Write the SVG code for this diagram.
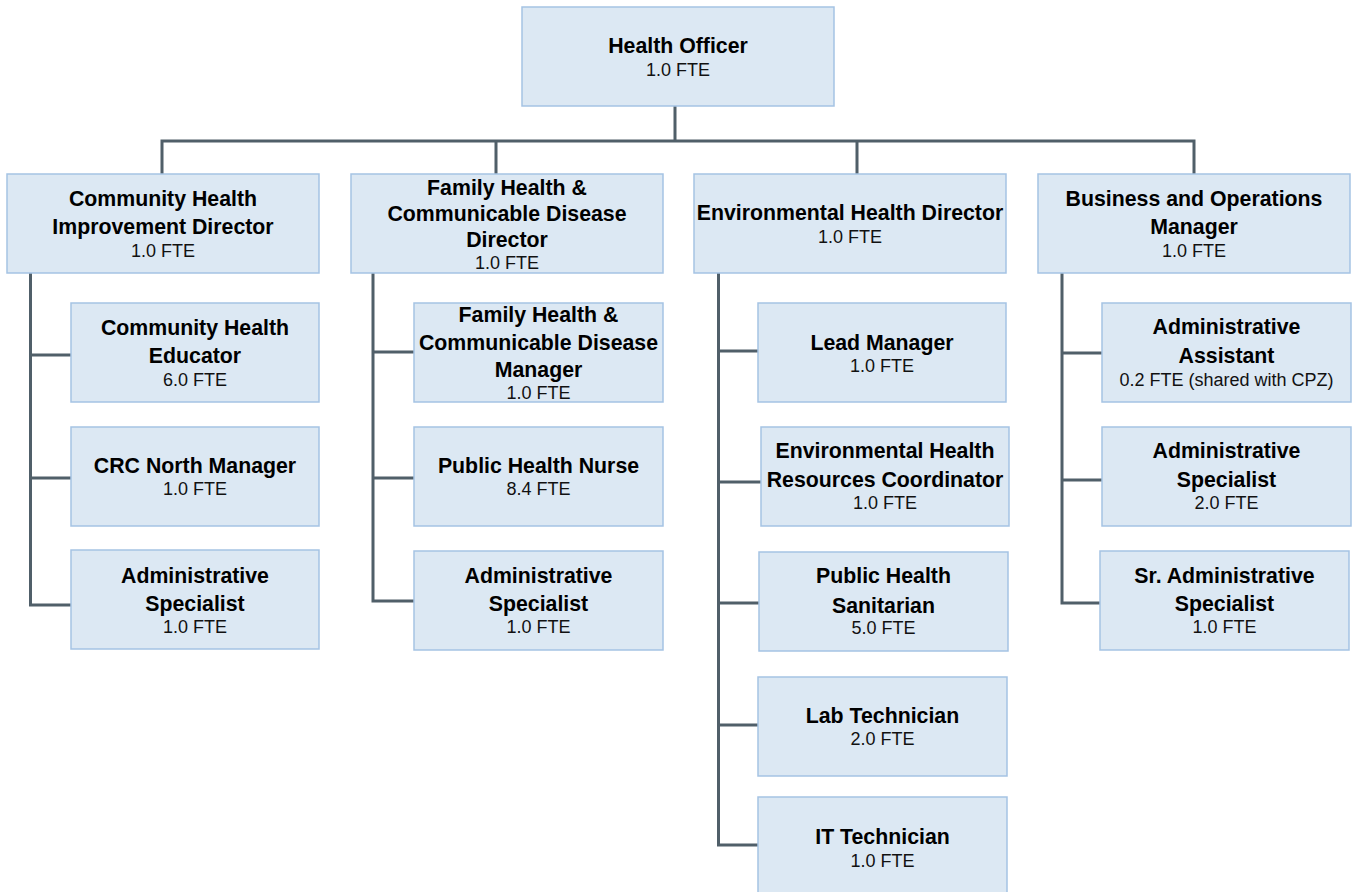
<svg xmlns="http://www.w3.org/2000/svg" width="1352" height="892" viewBox="0 0 1352 892">
<style>
.box{fill:#dce8f3;stroke:#a5c3e4;stroke-width:1.5}
.t{font-family:"Liberation Sans",Arial,sans-serif;font-weight:bold;font-size:21.3px;fill:#000;text-anchor:middle}
.f{font-family:"Liberation Sans",Arial,sans-serif;font-size:18px;fill:#111;text-anchor:middle}
.c{fill:none;stroke:#505f69;stroke-width:3;stroke-linejoin:miter;stroke-linecap:square}
</style>
<rect width="1352" height="892" fill="#fff"/>
<g id="connectors">
<path class="c" d="M675 106V141M162 174V141H1194V174M496 141V174M857 141V174"/>
<path class="c" d="M30.5 273V605M30.5 355H71M30.5 478H71M30.5 605H71"/>
<path class="c" d="M373 273V601M373 352H414M373 478H414M373 601H414"/>
<path class="c" d="M718.5 273V845M718.5 351H758M718.5 482H761M718.5 603H759M718.5 725H758M718.5 845H758"/>
<path class="c" d="M1062 273V603M1062 353H1102M1062 480H1102M1062 603H1100"/>
</g>
<g id="health-officer"><rect class="box" x="522" y="7" width="312" height="99"/><text class="t" x="678" y="53">Health Officer</text><text class="f" x="678" y="76">1.0 FTE</text></g>
<g id="chi-director"><rect class="box" x="7" y="174" width="312" height="99"/><text class="t" x="163" y="206">Community Health</text><text class="t" x="163" y="234">Improvement Director</text><text class="f" x="163" y="257">1.0 FTE</text></g>
<g id="fhcd-director"><rect class="box" x="351" y="174" width="312" height="99"/><text class="t" x="507" y="194.5">Family Health &amp;</text><text class="t" x="507" y="220.5">Communicable Disease</text><text class="t" x="507" y="246.5">Director</text><text class="f" x="507" y="269">1.0 FTE</text></g>
<g id="eh-director"><rect class="box" x="694" y="174" width="312" height="99"/><text class="t" x="850" y="220">Environmental Health Director</text><text class="f" x="850" y="243">1.0 FTE</text></g>
<g id="bo-manager"><rect class="box" x="1038" y="174" width="312" height="99"/><text class="t" x="1194" y="206">Business and Operations</text><text class="t" x="1194" y="234">Manager</text><text class="f" x="1194" y="257">1.0 FTE</text></g>
<g id="che"><rect class="box" x="71" y="303" width="248" height="99"/><text class="t" x="195" y="335">Community Health</text><text class="t" x="195" y="363">Educator</text><text class="f" x="195" y="386">6.0 FTE</text></g>
<g id="crc"><rect class="box" x="71" y="427" width="248" height="99"/><text class="t" x="195" y="473">CRC North Manager</text><text class="f" x="195" y="495">1.0 FTE</text></g>
<g id="chi-admin"><rect class="box" x="71" y="550" width="248" height="99"/><text class="t" x="195" y="583">Administrative</text><text class="t" x="195" y="611">Specialist</text><text class="f" x="195" y="633">1.0 FTE</text></g>
<g id="fhcd-manager"><rect class="box" x="414" y="303" width="249" height="99"/><text class="t" x="538.5" y="322">Family Health &amp;</text><text class="t" x="538.5" y="349.5">Communicable Disease</text><text class="t" x="538.5" y="377">Manager</text><text class="f" x="538.5" y="399">1.0 FTE</text></g>
<g id="phn"><rect class="box" x="414" y="427" width="249" height="99"/><text class="t" x="538.5" y="473">Public Health Nurse</text><text class="f" x="538.5" y="495">8.4 FTE</text></g>
<g id="fhcd-admin"><rect class="box" x="414" y="551" width="249" height="99"/><text class="t" x="538.5" y="583">Administrative</text><text class="t" x="538.5" y="611">Specialist</text><text class="f" x="538.5" y="633">1.0 FTE</text></g>
<g id="lead"><rect class="box" x="758" y="303" width="248" height="99"/><text class="t" x="882" y="350">Lead Manager</text><text class="f" x="882" y="372">1.0 FTE</text></g>
<g id="ehrc"><rect class="box" x="761" y="427" width="248" height="99"/><text class="t" x="885" y="458">Environmental Health</text><text class="t" x="885" y="487">Resources Coordinator</text><text class="f" x="885" y="509">1.0 FTE</text></g>
<g id="phs"><rect class="box" x="759" y="552" width="249" height="99"/><text class="t" x="883.5" y="583">Public Health</text><text class="t" x="883.5" y="612.5">Sanitarian</text><text class="f" x="883.5" y="634">5.0 FTE</text></g>
<g id="lab"><rect class="box" x="758" y="677" width="249" height="99"/><text class="t" x="882.5" y="723">Lab Technician</text><text class="f" x="882.5" y="745">2.0 FTE</text></g>
<g id="it"><rect class="box" x="758" y="797" width="249" height="99"/><text class="t" x="882.5" y="844">IT Technician</text><text class="f" x="882.5" y="866.5">1.0 FTE</text></g>
<g id="bo-assistant"><rect class="box" x="1102" y="303" width="249" height="99"/><text class="t" x="1226.5" y="334">Administrative</text><text class="t" x="1226.5" y="363">Assistant</text><text class="f" x="1226.5" y="385.5">0.2 FTE (shared with CPZ)</text></g>
<g id="bo-specialist"><rect class="box" x="1102" y="427" width="249" height="99"/><text class="t" x="1226.5" y="458">Administrative</text><text class="t" x="1226.5" y="487">Specialist</text><text class="f" x="1226.5" y="509">2.0 FTE</text></g>
<g id="bo-sr-specialist"><rect class="box" x="1100" y="551" width="249" height="99"/><text class="t" x="1224.5" y="583">Sr. Administrative</text><text class="t" x="1224.5" y="611">Specialist</text><text class="f" x="1224.5" y="633">1.0 FTE</text></g>
</svg>
